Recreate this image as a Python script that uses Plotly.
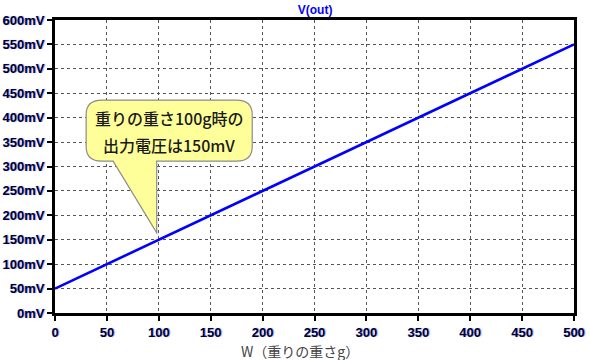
import plotly.graph_objects as go

# Data
w_g = [0, 50, 100, 150, 200, 250, 300, 350, 400, 450, 500]
v_out_mV = [50, 100, 150, 200, 250, 300, 350, 400, 450, 500, 550]
y_tick_vals = [0, 50, 100, 150, 200, 250, 300, 350, 400, 450, 500, 550, 600]
y_tick_text = ["0mV", "50mV", "100mV", "150mV", "200mV", "250mV", "300mV",
               "350mV", "400mV", "450mV", "500mV", "550mV", "600mV"]
x_tick_vals = [0, 50, 100, 150, 200, 250, 300, 350, 400, 450, 500]
callout_lines = ["重りの重さ100g時の", "出力電圧は150mV"]
callout_point = (98, 164)

fig = go.Figure()
fig.add_trace(go.Scatter(x=w_g, y=v_out_mV, mode="lines",
                         line=dict(color="#0000ff", width=2.6),
                         showlegend=False, hoverinfo="skip"))

tickfont = dict(family="Liberation Sans, Arial", size=13, color="#00002a",
                weight="bold", shadow="1px 0px 1px rgba(40,90,255,0.6)")

# Callout bubble (data coordinates)
bx0, bx1 = 30, 190
by0, by1 = 311, 436
rx, ry = 15, 30
tx0, tx1 = 56, 98
px, py = callout_point
path = (f"M {bx0+rx},{by1} L {bx1-rx},{by1} Q {bx1},{by1} {bx1},{by1-ry} "
        f"L {bx1},{by0+ry} Q {bx1},{by0} {bx1-rx},{by0} "
        f"L {tx1},{by0} L {px},{py} L {tx0},{by0} "
        f"L {bx0+rx},{by0} Q {bx0},{by0} {bx0},{by0+ry} "
        f"L {bx0},{by1-ry} Q {bx0},{by1} {bx0+rx},{by1} Z")
fig.add_shape(type="path", path=path, xref="x", yref="y",
              fillcolor="#ffff99", line=dict(color="#8c8c8c", width=1.2))

for txt, yy in zip(callout_lines, [399, 344]):
    fig.add_annotation(x=(bx0+bx1)/2, y=yy, xref="x", yref="y", text=txt,
                       showarrow=False,
                       font=dict(family="Noto Sans CJK JP", size=16, color="#1a1a1a",
                                 weight=500))

fig.add_annotation(x=0.472, y=-0.128, xref="paper", yref="paper",
                   xanchor="center", yanchor="middle",
                   text="W（重りの重さg）", showarrow=False,
                   font=dict(family="Noto Sans CJK JP", size=14, color="#444444"))

grid_dash = "3px,3px"
fig.update_layout(
    width=589, height=360,
    margin=dict(l=55, r=15, t=20, b=47, autoexpand=False),
    paper_bgcolor="white", plot_bgcolor="white",
    title=dict(text="V(out)", x=0.535, xanchor="center", y=0.972, yanchor="middle",
               automargin=False,
               font=dict(family="Liberation Sans, Arial", size=12, color="#0000ff",
                         weight="bold")),
    xaxis=dict(range=[0, 500], tickvals=x_tick_vals, showgrid=True, automargin=False,
               gridcolor="#555555", griddash=grid_dash, gridwidth=1,
               showline=True, linecolor="black", linewidth=3, mirror=True,
               ticks="outside", ticklen=5, tickwidth=2, tickcolor="black",
               tickfont=tickfont, zeroline=False),
    yaxis=dict(range=[0, 600], tickvals=y_tick_vals, ticktext=y_tick_text,
               showgrid=True, gridcolor="#555555", griddash=grid_dash, gridwidth=1,
               automargin=False,
               showline=True, linecolor="black", linewidth=3, mirror=True,
               ticks="outside", ticklen=5, tickwidth=2, tickcolor="black",
               tickfont=tickfont, zeroline=False),
)

fig.write_html("out.html", config={"displayModeBar": False},
               post_script="document.body.style.margin='0';")
